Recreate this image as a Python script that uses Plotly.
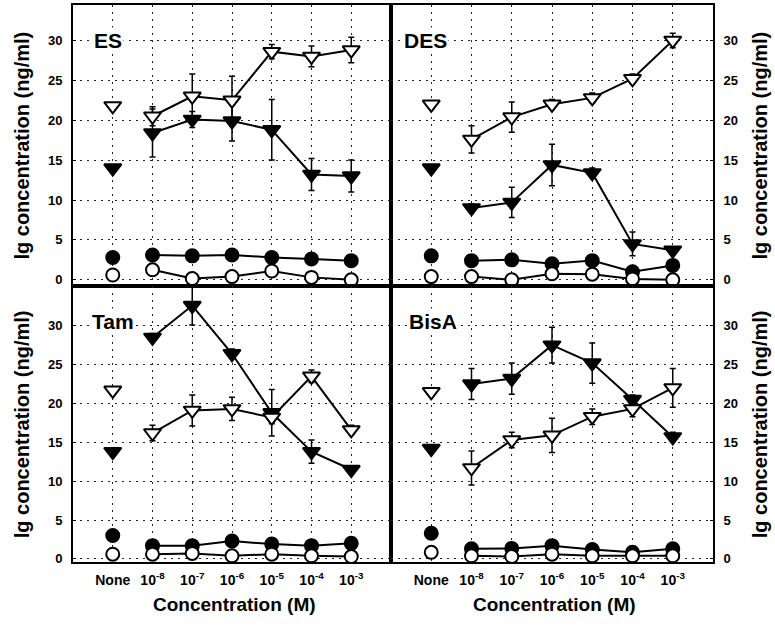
import plotly.graph_objects as go

# Concentration categories (x axis)
categories = ["None", "10<sup>-8</sup>", "10<sup>-7</sup>", "10<sup>-6</sup>",
              "10<sup>-5</sup>", "10<sup>-4</sup>", "10<sup>-3</sup>"]
y_ticks = [0, 5, 10, 15, 20, 25, 30]

panel_names = ["ES", "DES", "Tam", "BisA"]

# Open down-triangles (first value = "None" control)
open_tri_ES   = [21.8, 20.5, 23.0, 22.5, 28.6, 28.0, 28.8]
open_tri_DES  = [22.0, 17.6, 20.4, 22.0, 22.8, 25.2, 30.0]
open_tri_Tam  = [21.7, 16.2, 19.1, 19.3, 18.2, 23.5, 16.6]
open_tri_BisA = [21.5, 11.7, 15.3, 15.9, 18.3, 19.3, 22.0]

open_tri_err_ES   = [1.2, 2.8, 3.0, 0.9, 1.3, 1.6]
open_tri_err_DES  = [1.7, 1.9, 0.6, 0.6, 0.6, 0.9]
open_tri_err_Tam  = [1.0, 2.0, 1.5, 0.8, 0.8, 0.6]
open_tri_err_BisA = [2.2, 1.0, 2.2, 1.0, 1.0, 2.5]

# Filled down-triangles
fill_tri_ES   = [14.0, 18.4, 20.1, 19.9, 18.8, 13.2, 13.0]
fill_tri_DES  = [14.0, 9.0, 9.7, 14.4, 13.4, 4.5, 3.7]
fill_tri_Tam  = [13.8, 28.5, 32.6, 26.4, 18.8, 13.8, 11.5]
fill_tri_BisA = [14.2, 22.5, 23.2, 27.5, 25.2, 20.5, 15.7]

fill_tri_err_ES   = [3.0, 1.0, 2.5, 3.8, 2.0, 2.0]
fill_tri_err_DES  = [0.5, 1.9, 2.6, 0.6, 1.5, 0.4]
fill_tri_err_Tam  = [0.5, 2.5, 0.6, 3.0, 1.5, 0.5]
fill_tri_err_BisA = [2.0, 2.0, 2.3, 2.6, 0.6, 0.6]

# Filled circles
fill_circ_ES   = [2.8, 3.1, 3.0, 3.1, 2.8, 2.6, 2.4]
fill_circ_DES  = [3.0, 2.4, 2.5, 2.0, 2.4, 1.0, 1.8]
fill_circ_Tam  = [3.0, 1.7, 1.7, 2.3, 1.9, 1.7, 2.0]
fill_circ_BisA = [3.3, 1.3, 1.35, 1.7, 1.2, 0.85, 1.3]

# Open circles
open_circ_ES   = [0.6, 1.25, 0.15, 0.4, 1.1, 0.3, 0.0]
open_circ_DES  = [0.4, 0.4, 0.0, 0.75, 0.7, 0.1, 0.0]
open_circ_Tam  = [0.6, 0.6, 0.7, 0.4, 0.6, 0.4, 0.3]
open_circ_BisA = [0.85, 0.4, 0.3, 0.6, 0.4, 0.4, 0.4]

panels = [
    (fill_tri_ES, fill_tri_err_ES, open_tri_ES, open_tri_err_ES, fill_circ_ES, open_circ_ES),
    (fill_tri_DES, fill_tri_err_DES, open_tri_DES, open_tri_err_DES, fill_circ_DES, open_circ_DES),
    (fill_tri_Tam, fill_tri_err_Tam, open_tri_Tam, open_tri_err_Tam, fill_circ_Tam, open_circ_Tam),
    (fill_tri_BisA, fill_tri_err_BisA, open_tri_BisA, open_tri_err_BisA, fill_circ_BisA, open_circ_BisA),
]

W, H = 775, 625
FONT = "Liberation Sans"

def px_x(v):
    return v / W

def px_y(v):
    return 1 - v / H

left_dom = [px_x(73), px_x(391)]
right_dom = [px_x(391), px_x(713)]
top_dom = [px_y(288), px_y(5)]
bot_dom = [px_y(566), px_y(288)]

fig = go.Figure()

series_style = [
    dict(symbol="triangle-down", size=15, fill="black"),
    dict(symbol="triangle-down", size=15, fill="white"),
    dict(symbol="circle", size=13, fill="black"),
    dict(symbol="circle", size=13, fill="white"),
]

for i, (ft, fte, ot, ote, fc, oc) in enumerate(panels):
    xa = "x" if i == 0 else f"x{i+1}"
    ya = "y" if i == 0 else f"y{i+1}"
    values = [ft, ot, fc, oc]
    errs = [fte, ote, None, None]
    for vals, err, st in zip(values, errs, series_style):
        marker = dict(symbol=st["symbol"], size=st["size"], color=st["fill"],
                      line=dict(color="black", width=2))
        # control point ("None") is not connected to the dose series
        fig.add_trace(go.Scatter(
            x=categories[:1], y=vals[:1], mode="markers", marker=marker,
            xaxis=xa, yaxis=ya, showlegend=False))
        ey = None
        if err is not None:
            ey = dict(type="data", array=err, visible=True, color="black",
                      thickness=1.5, width=3)
        fig.add_trace(go.Scatter(
            x=categories[1:], y=vals[1:], mode="lines+markers", marker=marker,
            line=dict(color="black", width=2), error_y=ey,
            xaxis=xa, yaxis=ya, showlegend=False))

tick_font = dict(family=FONT, size=13, color="black", weight="bold")
xtick_font = dict(family=FONT, size=14, color="black", weight="bold")

axis_common = dict(showline=True, linewidth=2, linecolor="black", mirror=True,
                   showgrid=True, gridcolor="#222222", gridwidth=1.2,
                   griddash="2px,5px", zeroline=False)

layout = dict(width=W, height=H, margin=dict(l=0, r=0, t=0, b=0),
              plot_bgcolor="rgba(0,0,0,0)", paper_bgcolor="white",
              font=dict(family=FONT, color="black"))

for i in range(4):
    sx = "" if i == 0 else str(i + 1)
    is_left = i in (0, 2)
    is_top = i in (0, 1)
    layout["xaxis" + sx] = dict(
        axis_common, domain=left_dom if is_left else right_dom,
        anchor="y" + sx, type="category", categoryorder="array",
        categoryarray=categories, range=[-1, 7], tickfont=xtick_font,
        showticklabels=not is_top, ticks="", ticklabelstandoff=4)
    layout["yaxis" + sx] = dict(
        axis_common, domain=top_dom if is_top else bot_dom,
        anchor="x" + sx, side="left" if is_left else "right",
        range=[-0.8, 34.45] if is_top else [-0.45, 35.1], tickfont=tick_font,
        tickvals=y_ticks, ticks="inside", ticklen=3, tickcolor="black",
        ticklabelstandoff=6)

fig.update_layout(**layout)

ytitle_font = dict(family=FONT, size=20, color="black", weight="bold")
xtitle_font = dict(family=FONT, size=19, color="black", weight="bold")
label_font = dict(family=FONT, size=21, color="black", weight="bold")

annotations = []
# panel labels
label_pos = [(-0.12, 30.0), (-0.15, 30.0), (0.0, 30.5), (0.05, 30.5)]
for i, (name, (lx, ly)) in enumerate(zip(panel_names, label_pos)):
    sx = "" if i == 0 else str(i + 1)
    annotations.append(dict(text=name, x=lx, y=ly, xref="x" + sx, yref="y" + sx,
                            showarrow=False, font=label_font, bgcolor="white",
                            xanchor="center", yanchor="middle"))

# y-axis titles
ytitle = "lg concentration (ng/ml)"
for xp, yp in [(22, 146.5), (22, 427), (760, 146.5), (760, 427)]:
    annotations.append(dict(text=ytitle, x=px_x(xp), y=px_y(yp), xref="paper", yref="paper",
                            showarrow=False, textangle=-90, font=ytitle_font,
                            xanchor="center", yanchor="middle"))

# x-axis titles
for xp in [234, 554]:
    annotations.append(dict(text="Concentration (M)", x=px_x(xp), y=px_y(608),
                            xref="paper", yref="paper", showarrow=False,
                            font=xtitle_font, xanchor="center", yanchor="middle"))

fig.update_layout(annotations=annotations)

fig.write_html("out.html")
